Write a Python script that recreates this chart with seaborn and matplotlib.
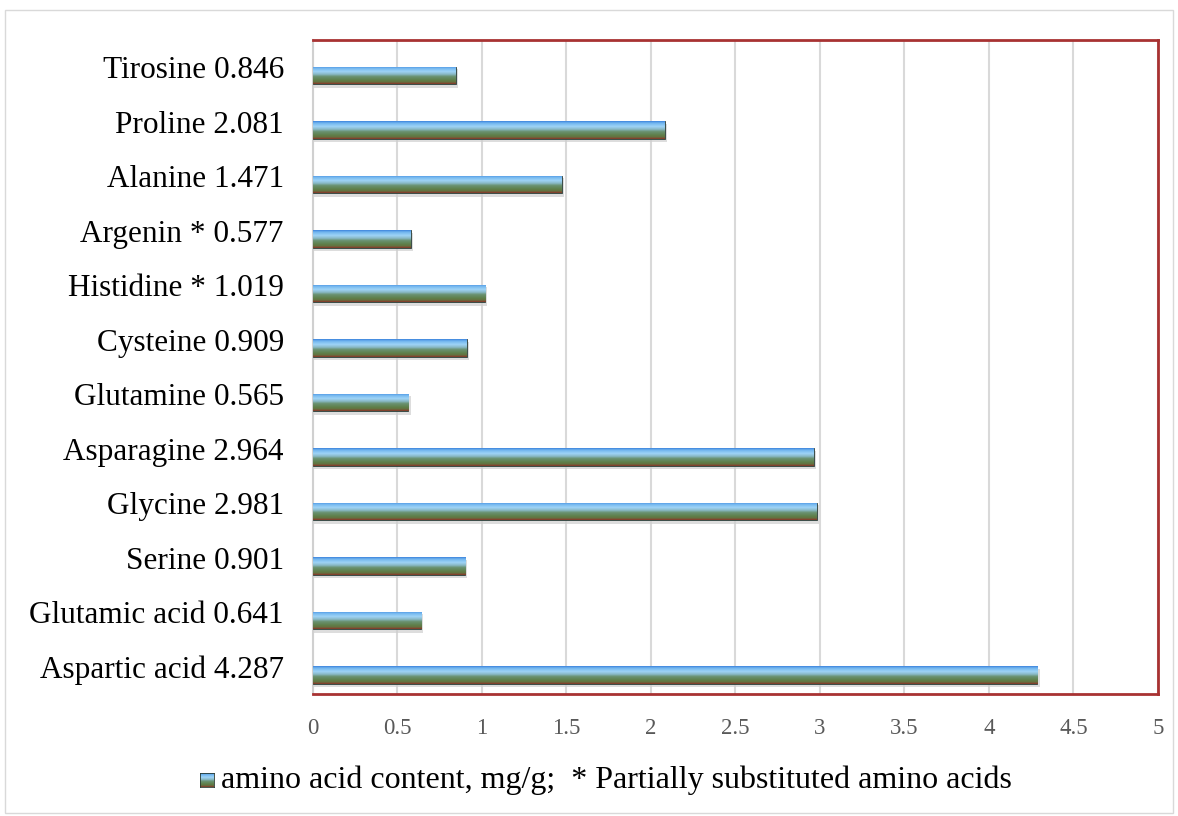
import numpy as np
import pandas as pd
import seaborn as sns
import matplotlib.pyplot as plt
from matplotlib.colors import LinearSegmentedColormap
from matplotlib.patches import Rectangle

names = ["Tirosine", "Proline", "Alanine", "Argenin *", "Histidine *", "Cysteine",
         "Glutamine", "Asparagine", "Glycine", "Serine", "Glutamic acid", "Aspartic acid"]
values = [0.846, 2.081, 1.471, 0.577, 1.019, 0.909, 0.565, 2.964, 2.981, 0.901, 0.641, 4.287]
xticks = [0, 0.5, 1, 1.5, 2, 2.5, 3, 3.5, 4, 4.5, 5]
xticklabels = ["0", "0.5", "1", "1.5", "2", "2.5", "3", "3.5", "4", "4.5", "5"]
legend_text = "amino acid content, mg/g;  * Partially substituted amino acids"

labels = [f"{n} {v:.3f}" for n, v in zip(names, values)]
df = pd.DataFrame({"label": labels, "value": values})

sns.set_theme(style="white")
plt.rcParams['font.family'] = ['Liberation Serif', 'DejaVu Serif']
plt.rcParams['text.color'] = 'black'

fig = plt.figure(figsize=(11.78, 8.16), dpi=100)
ax = fig.add_axes([0.2657, 0.1495, 0.7173, 0.8015])

sns.barplot(data=df, x="value", y="label", orient="h", color="#6a9ad0",
            width=0.32, ax=ax, zorder=3)

grad = LinearSegmentedColormap.from_list("g", [
    (0.0, "#3d84dc"), (0.1, "#6fb4ee"), (0.3, "#9fd4f7"), (0.46, "#88b8c4"),
    (0.58, "#6a9272"), (0.8, "#5e7f48"), (0.9, "#667040"), (1.0, "#8a3528")])
gimg = np.linspace(0, 1, 64).reshape(-1, 1)
for p in list(ax.patches):
    p.set_y(p.get_y() + 0.15)
    x0, y0 = p.get_x(), p.get_y()
    w, h = p.get_width(), p.get_height()
    ax.add_patch(Rectangle((x0, y0 + 0.05), w + 0.012, h + 0.02, color="#cfcfcf",
                           alpha=0.7, zorder=2, lw=0))
    im = ax.imshow(gimg, cmap=grad, aspect="auto", extent=(x0, x0 + w, y0 + h, y0),
                   zorder=4, interpolation="bilinear")
    im.set_clip_path(p)
    p.set_edgecolor("#2a3a30")
    p.set_linewidth(0.6)

ax.set_xlim(0, 5)
ax.set_ylim(11.5, -0.5)
ax.set_xticks(xticks)
ax.set_xticklabels(xticklabels, fontsize=16.5, color="#595959")
ax.tick_params(axis="y", labelsize=22.5, labelcolor="black", length=0, pad=21)
ax.tick_params(axis="x", length=0, pad=17)
ax.set_xlabel("")
ax.set_ylabel("")
ax.xaxis.grid(True, color="#d9d9d9", lw=1.5, zorder=0)
ax.set_axisbelow(True)
for s in ["top", "right", "bottom"]:
    ax.spines[s].set_color("#a83232")
    ax.spines[s].set_linewidth(2)
ax.spines["left"].set_color("#d0d0d0")
ax.spines["left"].set_linewidth(1.5)

# legend
sq = fig.add_axes([200 / 1178, 1 - 787 / 816, 14 / 1178, 14 / 816])
sq.imshow(gimg, cmap=grad, aspect="auto", interpolation="bilinear")
sq.set_xticks([]); sq.set_yticks([])
for s in sq.spines.values():
    s.set_color("#2a3a30"); s.set_linewidth(0.6)
fig.text(221 / 1178, 1 - 780 / 816, legend_text, fontsize=23, va="center", ha="left",
         color="black")

fig.add_artist(Rectangle((0.004, 0.004), 0.992, 0.984, transform=fig.transFigure,
                         fill=False, edgecolor="#d9d9d9", lw=1))

fig.savefig("out.png", dpi=100)
